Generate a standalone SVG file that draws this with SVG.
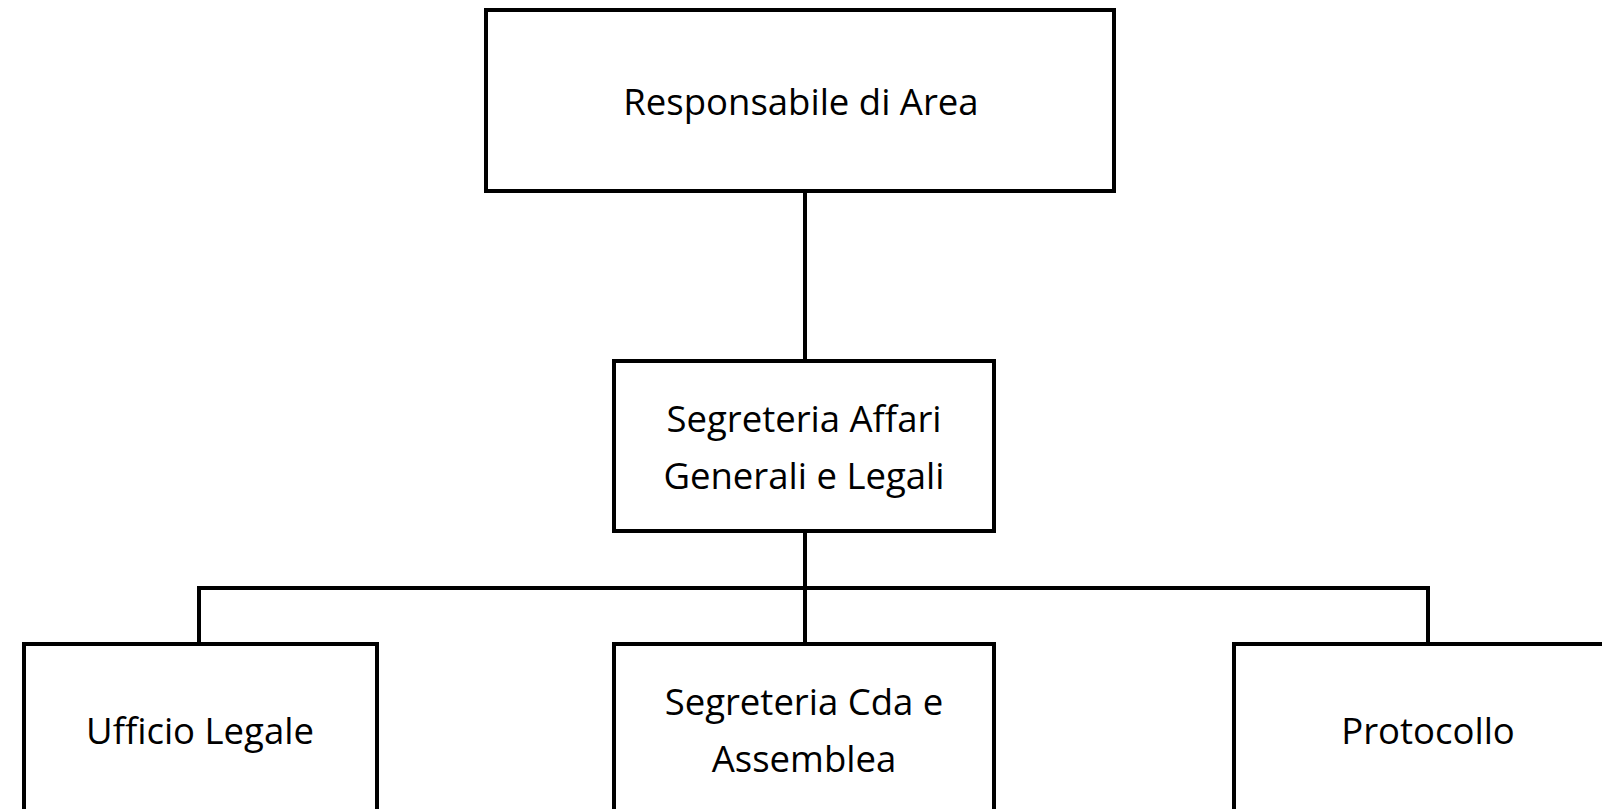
<svg xmlns="http://www.w3.org/2000/svg" width="1602" height="809" viewBox="0 0 1602 809">
<style>
.box{fill:#fff;stroke:#000;stroke-width:4}
.ln{fill:none;stroke:#000;stroke-width:4}
text{font-family:"Open Sans","Noto Sans",sans-serif;font-size:36.5px;fill:#000;text-anchor:middle;dominant-baseline:central}
</style>
<rect width="1602" height="809" fill="#fff"/>
<g id="connectors">
<line class="ln" x1="805" y1="191" x2="805" y2="361"/>
<line class="ln" x1="805" y1="531" x2="805" y2="644"/>
<polyline class="ln" points="199,644 199,588 1428,588 1428,644"/>
</g>
<g id="n1"><rect class="box" x="486" y="10" width="628" height="181"/><text x="801" y="101">Responsabile di Area</text></g>
<g id="n2"><rect class="box" x="614" y="361" width="380" height="170"/><text x="804" y="418">Segreteria Affari</text><text x="804" y="475">Generali e Legali</text></g>
<g id="n3"><rect class="box" x="24" y="644" width="353" height="200"/><text x="200" y="730">Ufficio Legale</text></g>
<g id="n4"><rect class="box" x="614" y="644" width="380" height="200"/><text x="804" y="701">Segreteria Cda e</text><text x="804" y="758">Assemblea</text></g>
<g id="n5"><rect class="box" x="1234" y="644" width="420" height="200"/><text x="1428" y="730">Protocollo</text></g>
</svg>
